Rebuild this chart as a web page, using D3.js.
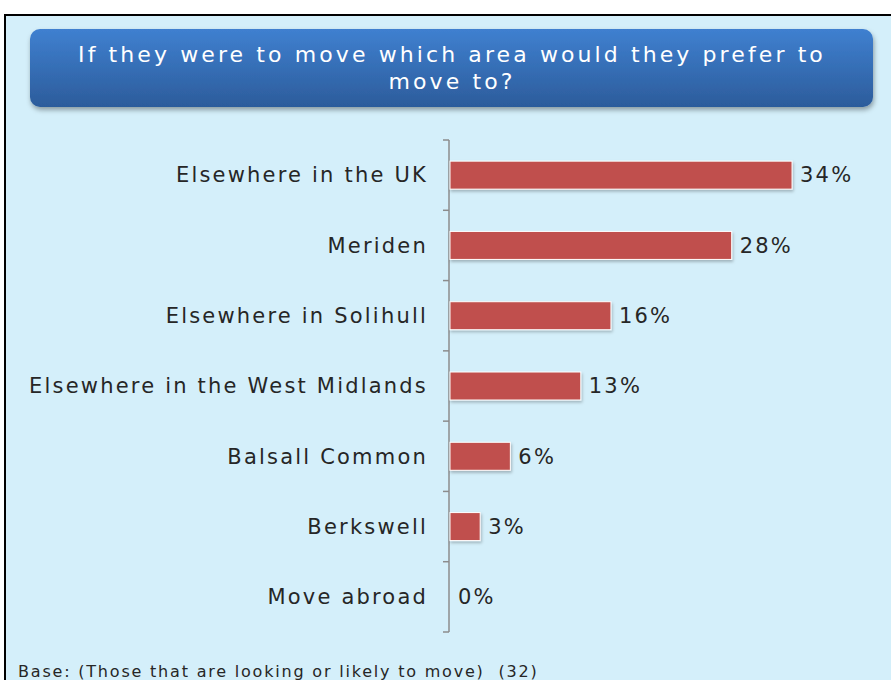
<!DOCTYPE html>
<html>
<head>
<meta charset="utf-8">
<script src="https://cdn.jsdelivr.net/npm/d3@7"></script>
<style>
  html, body { margin: 0; padding: 0; background: #ffffff; }
  svg { display: block; }
  text { font-family: "DejaVu Sans", "Noto Sans", sans-serif; white-space: pre; }
</style>
</head>
<body>
<svg id="chart" width="891" height="680"></svg>
<script>
// Survey answers: preferred area to move to
const categories = [
  "Elsewhere in the UK",
  "Meriden",
  "Elsewhere in Solihull",
  "Elsewhere in the West Midlands",
  "Balsall Common",
  "Berkswell",
  "Move abroad"
];
const values = [34, 28, 16, 13, 6, 3, 0];
const titleLines = ["If they were to move which area would they prefer to", "move to?"];
const baseNote = "Base: (Those that are looking or likely to move)  (32)";

const svg = d3.select("#chart");
const W = 891, H = 680;

const defs = svg.append("defs");
const grad = defs.append("linearGradient").attr("id", "titleGrad")
  .attr("x1", 0).attr("y1", 0).attr("x2", 0).attr("y2", 1);
grad.append("stop").attr("offset", "0%").attr("stop-color", "#3f80d0");
grad.append("stop").attr("offset", "100%").attr("stop-color", "#2c5c9b");

const shadow = defs.append("filter").attr("id", "shadow")
  .attr("x", "-10%").attr("y", "-20%").attr("width", "130%").attr("height", "160%");
shadow.append("feDropShadow").attr("dx", 1).attr("dy", 3).attr("stdDeviation", 2.5)
  .attr("flood-color", "#000").attr("flood-opacity", 0.35);

const barShadow = defs.append("filter").attr("id", "barShadow")
  .attr("x", "-10%").attr("y", "-20%").attr("width", "130%").attr("height", "160%");
barShadow.append("feDropShadow").attr("dx", 1).attr("dy", 2).attr("stdDeviation", 1.5)
  .attr("flood-color", "#000").attr("flood-opacity", 0.25);

// Panel background and frame
svg.append("rect").attr("x", 5).attr("y", 15).attr("width", W).attr("height", H)
  .attr("fill", "#d4effa").attr("stroke", "#000").attr("stroke-width", 2);

// Title banner
svg.append("rect").attr("x", 30).attr("y", 29).attr("width", 843).attr("height", 78)
  .attr("rx", 10).attr("ry", 10).attr("fill", "url(#titleGrad)")
  .attr("filter", "url(#shadow)");

svg.append("g").selectAll("text").data(titleLines).join("text")
  .attr("x", 452).attr("y", (d, i) => 62 + i * 27)
  .attr("text-anchor", "middle").attr("fill", "#ffffff")
  .attr("font-size", 22).attr("letter-spacing", 3.1)
  .text(d => d);

// Scales
const x0 = 449;
const x = d3.scaleLinear().domain([0, 40]).range([x0, x0 + 402.4]);
const y = d3.scaleBand().domain(categories).range([140, 632]).paddingInner(0.6).paddingOuter(0.3);

// Category axis line with ticks at band boundaries
const boundaries = d3.range(categories.length + 1).map(i => 140 + i * (492 / categories.length));
const axis = svg.append("g");
axis.append("line").attr("x1", x0).attr("x2", x0).attr("y1", 140).attr("y2", 632)
  .attr("stroke", "#8c8c8c").attr("stroke-width", 1.5);
axis.selectAll("line.tick").data(boundaries).join("line").attr("class", "tick")
  .attr("x1", x0 - 6).attr("x2", x0).attr("y1", d => d).attr("y2", d => d)
  .attr("stroke", "#8c8c8c").attr("stroke-width", 1.5);

const rows = categories.map((c, i) => ({ c, v: values[i] }));

// Bars
svg.append("g").selectAll("rect").data(rows.filter(d => d.v > 0)).join("rect")
  .attr("x", x0 + 1)
  .attr("y", d => y(d.c) + y.bandwidth() / 2 - 14)
  .attr("width", d => x(d.v) - x0)
  .attr("height", 28)
  .attr("fill", "#c0504d").attr("stroke", "#ffffff").attr("stroke-width", 1)
  .attr("filter", "url(#barShadow)");

// Category labels
svg.append("g").selectAll("text").data(rows).join("text")
  .attr("x", 428).attr("y", d => y(d.c) + y.bandwidth() / 2)
  .attr("dy", "0.35em").attr("text-anchor", "end")
  .attr("fill", "#262626").attr("font-size", 21).attr("letter-spacing", 2.2)
  .text(d => d.c);

// Value labels
svg.append("g").selectAll("text").data(rows).join("text")
  .attr("x", d => x(d.v) + 9).attr("y", d => y(d.c) + y.bandwidth() / 2)
  .attr("dy", "0.35em").attr("text-anchor", "start")
  .attr("fill", "#262626").attr("font-size", 21).attr("letter-spacing", 2.2)
  .text(d => d.v + "%");

// Base note
svg.append("text").attr("x", 18).attr("y", 677)
  .attr("fill", "#262626").attr("font-size", 16).attr("letter-spacing", 1.8)
  .text(baseNote);
</script>
</body>
</html>
